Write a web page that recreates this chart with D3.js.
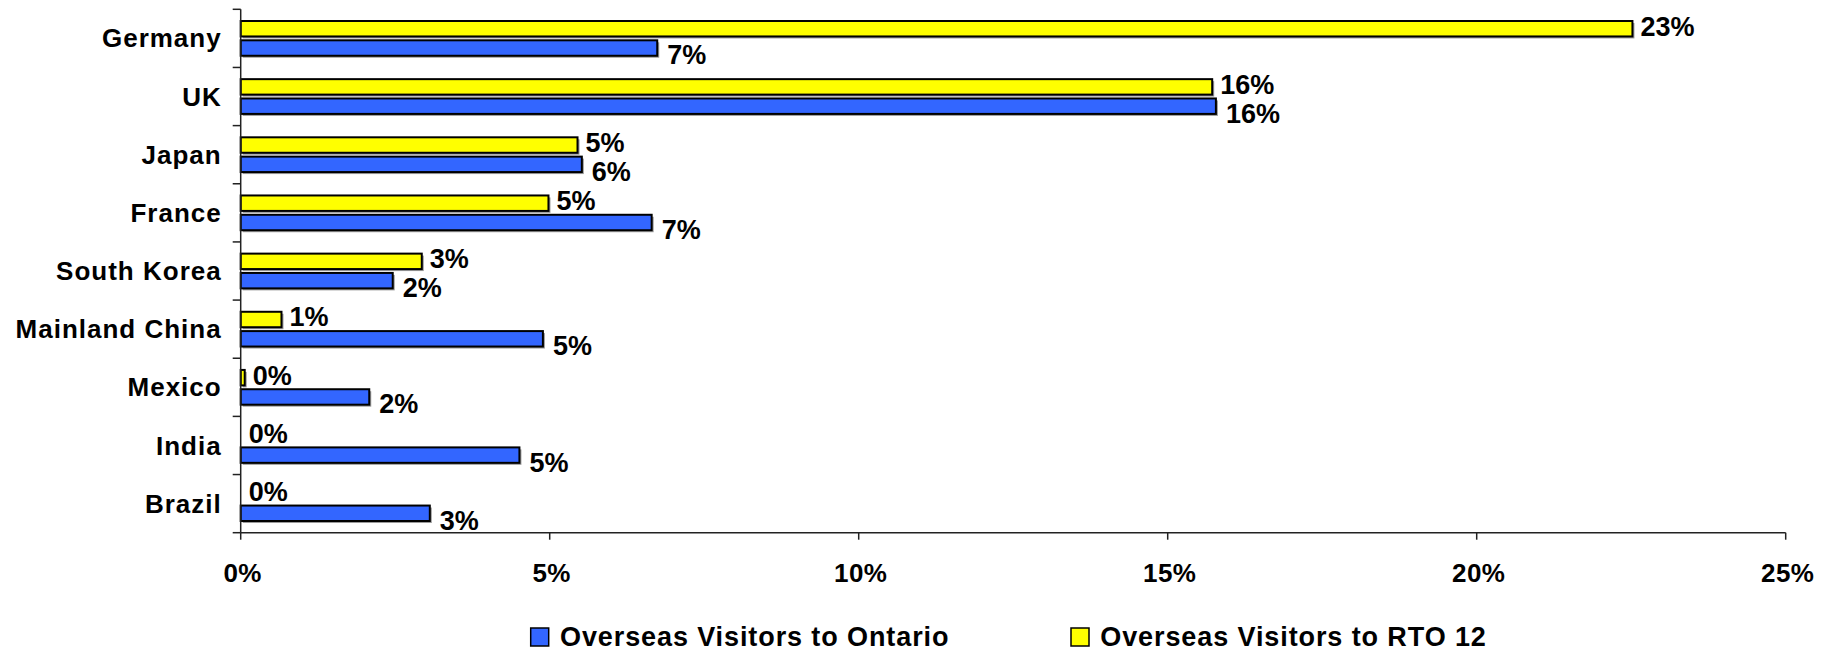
<!DOCTYPE html>
<html>
<head>
<meta charset="utf-8">
<title></title>
<style>
  body, html{
    margin: 0;
    background: #fff;
  }
  text{
    font-family: "Liberation Sans", Arial, sans-serif;
    font-weight: bold;
    fill: #000;
  }
</style>
</head>
<body>
<svg id="chart" width="1829" height="651"></svg>
<script src="https://cdnjs.cloudflare.com/ajax/libs/d3/7.8.5/d3.min.js"></script>
<script>
var countries = ['Germany', 'UK', 'Japan', 'France', 'South Korea', 'Mainland China', 'Mexico', 'India', 'Brazil']
var ontario = [0.0674, 0.1578, 0.0552, 0.0665, 0.0246, 0.0489, 0.0208, 0.0451, 0.0306]
var rto12 = [0.2252, 0.1572, 0.0545, 0.0498, 0.0293, 0.0066, 0.00065, 0, 0]
var seriesKeys = ['rto12', 'ontario']
var seriesNames = {ontario: 'Overseas Visitors to Ontario', rto12: 'Overseas Visitors to RTO 12'}
var seriesColors = {ontario: '#3366ff', rto12: '#ffff00'}
var xTicks = [0, 0.05, 0.10, 0.15, 0.20, 0.25]

// plot box (window.top is read-only, so no bare "top" here)
var plotL = 240.7, plotR = 1785.7, plotT = 9.3, plotB = 532.7
var svg = d3.select('#chart')
var fmt = d3.format('.0%')

var x = d3.scaleLinear().domain([0, 0.25]).range([plotL, plotR])
var y0 = d3.scaleBand().domain(countries).range([plotT, plotB])
var y1 = d3.scaleBand().domain(seriesKeys)
  .range([11.7, y0.bandwidth() - 11.7]).paddingInner(0.2)

var rows = []
countries.forEach(function(c, i){
  rows.push({country: c, key: 'rto12', v: rto12[i]})
  rows.push({country: c, key: 'ontario', v: ontario[i]})
})

function barY(d){ return y0(d.country) + y1(d.key) }

// shadows, then bars
var drawn = rows.filter(function(d){ return d.v > 0 })
svg.append('g').selectAll('rect').data(drawn).enter().append('rect')
  .attr('x', x(0) + 2)
  .attr('y', function(d){ return barY(d) + 2 })
  .attr('width', function(d){ return x(d.v) - x(0) })
  .attr('height', y1.bandwidth())
  .attr('fill', '#9a9a9a')
svg.append('g').selectAll('rect').data(drawn).enter().append('rect')
  .attr('x', x(0))
  .attr('y', barY)
  .attr('width', function(d){ return x(d.v) - x(0) })
  .attr('height', y1.bandwidth())
  .attr('fill', function(d){ return seriesColors[d.key] })
  .attr('stroke', '#000')
  .attr('stroke-width', 2)

// data labels
svg.append('g').selectAll('text').data(rows).enter().append('text')
  .attr('x', function(d){ return x(d.v) + (d.key == 'rto12' ? 8 : 10) })
  .attr('y', function(d){ return barY(d) + y1.bandwidth() / 2 + (d.key == 'rto12' ? -2.5 : 7) })
  .attr('dy', '0.35em')
  .style('font-size', '27px')
  .text(function(d){ return fmt(d.v) })

// y axis
var yAxis = svg.append('g')
yAxis.append('line')
  .attr('x1', plotL).attr('x2', plotL).attr('y1', plotT).attr('y2', plotB)
  .attr('stroke', '#222').attr('stroke-width', 1.5)
var bounds = countries.map(function(c){ return y0(c) }).concat([plotB])
yAxis.selectAll('.tk').data(bounds).enter().append('line')
  .attr('class', 'tk')
  .attr('x1', plotL - 8).attr('x2', plotL)
  .attr('y1', function(d){ return d }).attr('y2', function(d){ return d })
  .attr('stroke', '#222').attr('stroke-width', 1.5)
yAxis.selectAll('text').data(countries).enter().append('text')
  .attr('x', plotL - 19)
  .attr('y', function(c){ return y0(c) + y0.bandwidth() / 2 })
  .attr('dy', '0.35em')
  .attr('text-anchor', 'end')
  .style('font-size', '26px')
  .style('letter-spacing', '1px')
  .text(function(c){ return c })

// x axis
var xAxis = svg.append('g')
xAxis.append('line')
  .attr('x1', plotL).attr('x2', plotR).attr('y1', plotB).attr('y2', plotB)
  .attr('stroke', '#222').attr('stroke-width', 1.5)
xAxis.selectAll('line.tk').data(xTicks).enter().append('line')
  .attr('class', 'tk')
  .attr('x1', x).attr('x2', x)
  .attr('y1', plotB).attr('y2', plotB + 7)
  .attr('stroke', '#222').attr('stroke-width', 1.5)
xAxis.selectAll('text').data(xTicks).enter().append('text')
  .attr('x', function(d){ return x(d) + 2 })
  .attr('y', 581.7)
  .attr('text-anchor', 'middle')
  .style('font-size', '26px')
  .style('letter-spacing', '0.5px')
  .text(fmt)

// legend
var legendX = {ontario: 530.7, rto12: 1071}
var legend = svg.append('g').selectAll('g').data(['ontario', 'rto12']).enter().append('g')
  .attr('transform', function(k){ return 'translate(' + legendX[k] + ',628)' })
legend.append('rect')
  .attr('width', 18).attr('height', 18)
  .attr('fill', function(k){ return seriesColors[k] })
  .attr('stroke', '#000').attr('stroke-width', 1.5)
legend.append('text')
  .attr('x', 29.3).attr('y', 18)
  .style('font-size', '27px')
  .style('letter-spacing', '0.9px')
  .text(function(k){ return seriesNames[k] })
</script>
</body>
</html>
